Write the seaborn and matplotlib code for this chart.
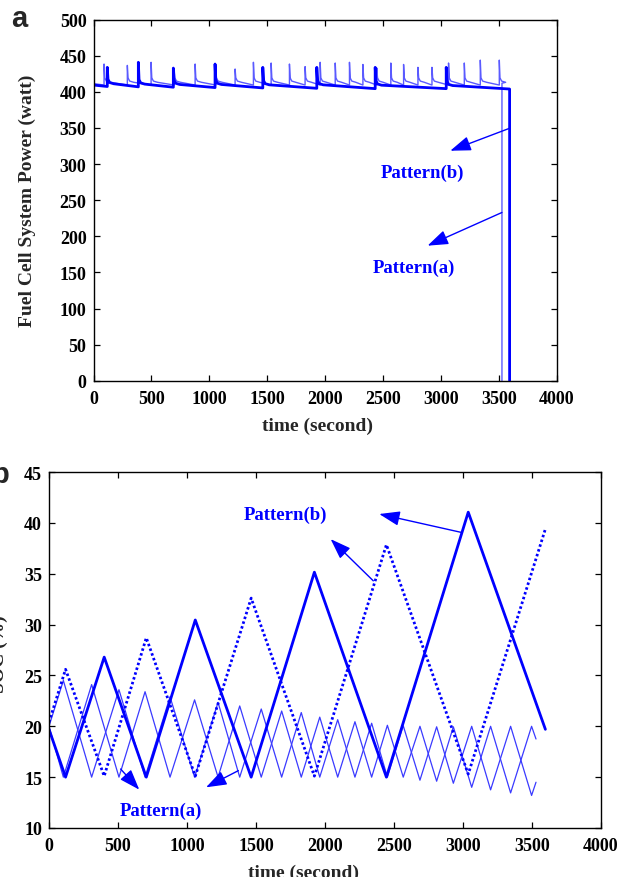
import matplotlib
matplotlib.use("Agg")
import matplotlib.pyplot as plt
import numpy as np
import pandas as pd
import seaborn as sns

# ---------------- data ----------------
# (a) fuel cell system power, watt
# pattern (a): thin trace, switching spikes
fc_a_spike_t = [91, 292, 497, 696, 877, 1055, 1222, 1380, 1533, 1691, 1826, 1956,
                2086, 2209, 2325, 2445, 2566, 2676, 2800, 2921, 3064, 3200, 3338, 3502]
fc_a_spike_w = [438.6, 436.7, 441, 432, 438.6, 437, 431.7, 441, 440, 438.6, 435, 441,
                440, 441, 438, 433, 440, 438, 434, 434, 440, 440, 444, 444]
fc_a_start_w = 411.5
fc_a_base_w = 409.5
fc_a_settle_w = 412.5
fc_a_end_w = 412.0
fc_a_off_t = 3525

# pattern (b): thick trace
fc_b_spike_t = [119, 387, 689, 1049, 1461, 1927, 2431, 3044]
fc_b_spike_w = [434, 441, 433, 438.6, 434, 434, 434, 434]
fc_b_before_w = [407.5, 407, 406.5, 406, 405.5, 405, 404.5, 404.5]
fc_b_after_w = [410.5, 410, 409.5, 409.5, 409, 409, 408.5, 408]
fc_b_start_w = 409.5
fc_b_end_w = 404.0
fc_b_off_t = 3591

# (b) battery state of charge, %
soc_b_t = [0, 120, 400, 705, 1060, 1465, 1923, 2445, 3038, 3597]
soc_b_solid = [19.7, 15.0, 26.8, 15.0, 30.45, 15.0, 35.15, 15.0, 41.05, 19.7]
soc_b_dotted = [20.4, 25.6, 15.1, 28.7, 15.1, 32.6, 15.1, 37.85, 15.3, 39.4]

soc_a_t = [0, 104, 309, 507, 696, 877, 1055, 1225, 1382, 1538, 1686, 1828, 1962,
           2092, 2217, 2338, 2452, 2567, 2688, 2809, 2930, 3063, 3200, 3345, 3497, 3529]
soc_a_1 = [20, 24.5, 15, 23.6, 15, 22.9, 15, 22.35, 15, 21.7, 15, 21.35, 15,
           20.65, 15, 20.3, 15, 20.05, 14.7, 19.95, 14.4, 20.0, 13.75, 20.0, 13.2, 14.5]
soc_a_2 = [20, 15, 24.1, 15, 23.4, 15, 22.6, 15, 22.0, 15, 21.5, 15, 20.9,
           15, 20.45, 15, 20.1, 15.0, 20.0, 14.6, 19.95, 14.0, 20.0, 13.45, 20.0, 18.75]

x_ticks = [0, 500, 1000, 1500, 2000, 2500, 3000, 3500, 4000]
power_ticks = list(range(0, 501, 50))
soc_ticks = list(range(10, 46, 5))

BLUE = "#0000ff"
THIN_A = "#5a5aff"
THIN_B = "#3a3aff"


def power_trace(start_w, spike_t, spike_w, before_w, after_w, end_w, off_t):
    """Vertices of a stepped power trace with short transient spikes."""
    t, w = [0, 0], [0, start_w]
    for k, (ts, pk) in enumerate(zip(spike_t, spike_w)):
        a = after_w[k]
        t += [ts, ts, ts + 6, ts + 20, ts + 55]
        w += [before_w[k], pk, a + 7, a + 2.5, a + 0.8]
    t += [off_t, off_t]
    w += [end_w, 0]
    return pd.DataFrame({"t": t, "w": w})


n_a = len(fc_a_spike_t)
df_fc_a = power_trace(fc_a_start_w, fc_a_spike_t, fc_a_spike_w,
                      [fc_a_base_w] * n_a, [fc_a_settle_w] * n_a, fc_a_end_w, fc_a_off_t)
df_fc_b = power_trace(fc_b_start_w, fc_b_spike_t, fc_b_spike_w,
                      fc_b_before_w, fc_b_after_w, fc_b_end_w, fc_b_off_t)

# ---------------- style ----------------
sns.set_theme(style="ticks")
plt.rcParams["font.family"] = ["Liberation Serif", "DejaVu Serif"]
plt.rcParams["font.weight"] = "bold"
plt.rcParams["axes.labelweight"] = "bold"

fig = plt.figure(figsize=(6.29, 8.78), dpi=100)
W, H = 629, 878

TICK_FS = 13
LABEL_FS = 14
NOTE_FS = 13.5


def add_axes_px(left, top, right, bottom):
    return fig.add_axes([left / W, 1 - bottom / H, (right - left) / W, (bottom - top) / H])


def style_axes(ax):
    for s in ax.spines.values():
        s.set_linewidth(1.0)
        s.set_color("black")
        s.set_visible(True)
    ax.tick_params(axis="both", which="major", direction="in", length=4, width=0.9,
                   top=True, right=True, labelsize=TICK_FS, colors="black")
    ax.tick_params(axis="x", pad=6.5)
    ax.tick_params(axis="y", pad=5)
    for lab in ax.get_xticklabels() + ax.get_yticklabels():
        lab.set_fontweight("bold")


arrow_kw = dict(arrowstyle="-|>,head_length=0.9,head_width=0.32", color=BLUE, lw=1.0,
                shrinkA=0, shrinkB=0, mutation_scale=14)
label_kw = dict(color=BLUE, fontsize=NOTE_FS, fontweight="bold", ha="center", va="center")

# ---------------- panel a ----------------
ax1 = add_axes_px(93.5, 20.7, 557, 381.7)
sns.lineplot(data=df_fc_a, x="t", y="w", ax=ax1, estimator=None, sort=False,
             color=THIN_A, linewidth=1.0)
sns.lineplot(data=df_fc_b, x="t", y="w", ax=ax1, estimator=None, sort=False,
             color=BLUE, linewidth=2.0)
ax1.set_xlim(0, 4000)
ax1.set_ylim(0, 500)
ax1.set_xticks(x_ticks)
ax1.set_yticks(power_ticks)
ax1.set_xlabel("time (second)", fontsize=LABEL_FS, fontweight="bold")
ax1.set_ylabel("Fuel Cell System Power (watt)", fontsize=LABEL_FS, fontweight="bold")
ax1.xaxis.set_label_coords(0.484, -0.1)
ax1.yaxis.set_label_coords(-0.125, 0.5)
style_axes(ax1)

ax1.annotate("", xy=(3079, 318.5), xytext=(3597, 350), arrowprops=arrow_kw)
ax1.annotate("", xy=(2883, 187), xytext=(3525, 233), arrowprops=arrow_kw)
ax1.text(2843, 288.6, "Pattern(b)", **label_kw)
ax1.text(2768, 157, "Pattern(a)", **label_kw)

fig.text(19 / W, 1 - 19 / H, "a", fontsize=21, fontweight="bold",
         family=["Liberation Sans", "DejaVu Sans"], ha="center", va="center")

# ---------------- panel b ----------------
ax2 = add_axes_px(49, 473, 601, 829)
df_soc_b = pd.DataFrame({"t": soc_b_t, "solid": soc_b_solid, "dotted": soc_b_dotted})
df_soc_a = pd.DataFrame({"t": soc_a_t, "s1": soc_a_1, "s2": soc_a_2})

sns.lineplot(data=df_soc_a, x="t", y="s1", ax=ax2, estimator=None, sort=False,
             color=THIN_B, linewidth=0.9)
sns.lineplot(data=df_soc_a, x="t", y="s2", ax=ax2, estimator=None, sort=False,
             color=THIN_B, linewidth=0.9)
sns.lineplot(data=df_soc_b, x="t", y="dotted", ax=ax2, estimator=None, sort=False,
             color=BLUE, linewidth=2.0, linestyle=(0, (0.9, 0.9)))
sns.lineplot(data=df_soc_b, x="t", y="solid", ax=ax2, estimator=None, sort=False,
             color=BLUE, linewidth=2.0)
ax2.set_xlim(0, 4000)
ax2.set_ylim(10, 45)
ax2.set_xticks(x_ticks)
ax2.set_yticks(soc_ticks)
ax2.set_xlabel("time (second)", fontsize=LABEL_FS, fontweight="bold")
ax2.set_ylabel("SOC (%)", fontsize=LABEL_FS, fontweight="bold")
ax2.xaxis.set_label_coords(0.461, -0.1)
ax2.yaxis.set_label_coords(-0.074, 0.49)
style_axes(ax2)

ax2.annotate("", xy=(2393, 40.87), xytext=(2985, 39.07), arrowprops=arrow_kw)
ax2.annotate("", xy=(2041, 38.4), xytext=(2350, 34.3), arrowprops=arrow_kw)
ax2.annotate("", xy=(654, 13.77), xytext=(519, 15.8), arrowprops=arrow_kw)
ax2.annotate("", xy=(1138, 14.0), xytext=(1372, 15.64), arrowprops=arrow_kw)
ax2.text(1717, 40.87, "Pattern(b)", **label_kw)
ax2.text(808, 11.7, "Pattern(a)", **label_kw)

fig.text(0 / W, 1 - 475 / H, "b", fontsize=21, fontweight="bold",
         family=["Liberation Sans", "DejaVu Sans"], ha="center", va="center")

fig.savefig("out.png", dpi=100)
